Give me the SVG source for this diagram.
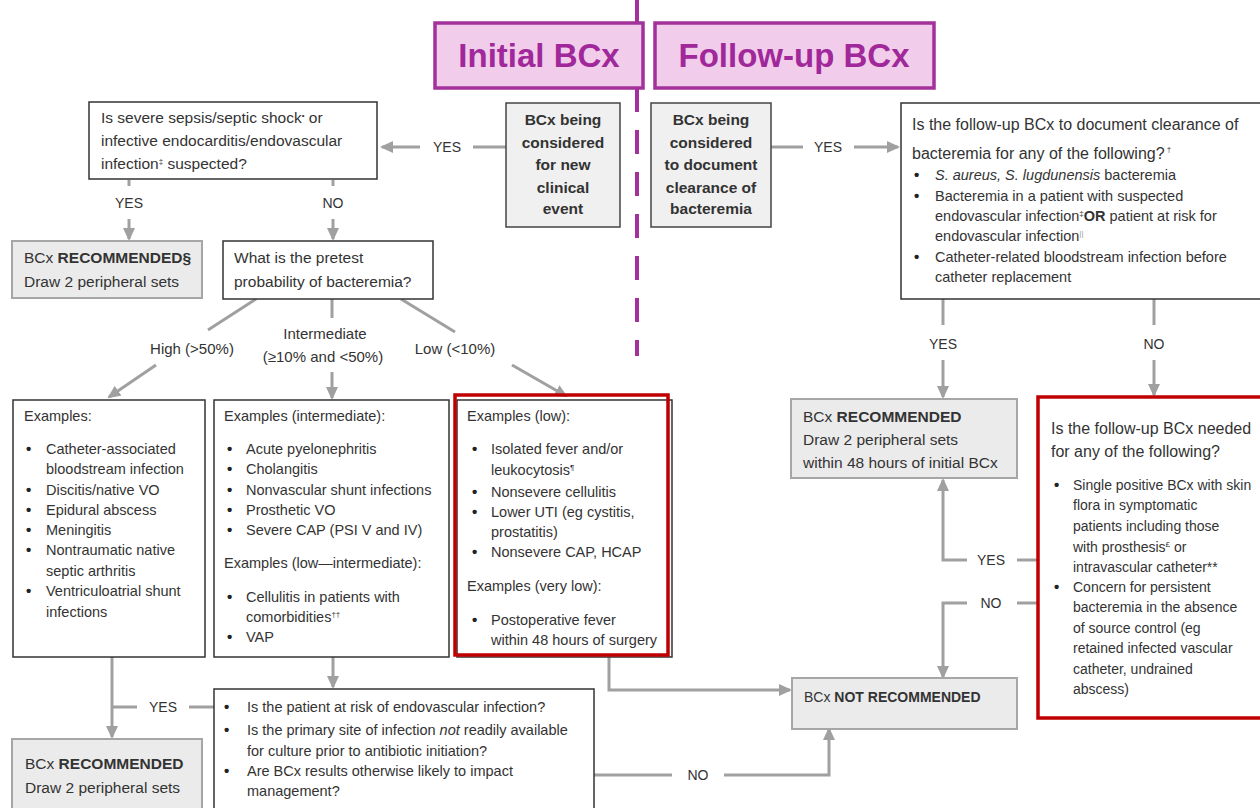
<svg xmlns="http://www.w3.org/2000/svg" width="1260" height="808" viewBox="0 0 1260 808">
<style>
.t{font-family:"Liberation Sans",Arial,sans-serif;fill:#333;font-size:14.5px}
.s14{font-size:14px}
.s15{font-size:15.5px}
.s16{font-size:16px}
.b{font-weight:bold}
.c{text-anchor:middle}
.bu{font-family:"Liberation Sans",Arial,sans-serif;fill:#222;font-size:15px;font-weight:bold}
.box{fill:#fff;stroke:#333;stroke-width:1.5}
.gbox{fill:#F0F0F0;stroke:#444;stroke-width:1.5}
.rbox{fill:#EBEBEB;stroke:#A6A6A6;stroke-width:2}
.red{fill:none;stroke:#C00000;stroke-width:3.5}
.hdr{fill:#F2CDEB;stroke:#A3309B;stroke-width:3.5}
.hdrt{font-family:"Liberation Sans",Arial,sans-serif;font-weight:bold;font-size:33px;fill:#A0289A;text-anchor:middle}
.cn{fill:none;stroke:#A0A0A0;stroke-width:3}
.lbl{font-family:"Liberation Sans",Arial,sans-serif;font-size:14px;fill:#333;text-anchor:middle}
.lbl2{font-family:"Liberation Sans",Arial,sans-serif;font-size:15px;fill:#333;text-anchor:middle}
.sup{font-size:8px}
</style>
<defs>
<marker id="ah" markerWidth="13" markerHeight="12" refX="11" refY="6" orient="auto" markerUnits="userSpaceOnUse">
<path d="M0,0 L13,6 L0,12 z" fill="#A0A0A0"/>
</marker>
</defs>
<rect width="1260" height="808" fill="#fff"/>

<g id="divider">
<line x1="637" y1="0" x2="637" y2="24" stroke="#A3309B" stroke-width="4"/>
<line x1="637" y1="88" x2="637" y2="356" stroke="#A3309B" stroke-width="4" stroke-dasharray="24 18"/>
</g>

<g id="hdr-initial">
<rect class="hdr" x="435" y="23" width="208" height="65"/>
<text class="hdrt" x="539" y="67">Initial BCx</text>
</g>
<g id="hdr-followup">
<rect class="hdr" x="655" y="23" width="279" height="65"/>
<text class="hdrt" x="794" y="67">Follow-up BCx</text>
</g>

<g id="connectors">
<path class="cn" d="M506,147 H473"/>
<path class="cn" d="M420,147 H382" marker-end="url(#ah)"/>
<text class="lbl" x="447" y="152">YES</text>
<path class="cn" d="M771,147 H803"/>
<path class="cn" d="M854,147 H898" marker-end="url(#ah)"/>
<text class="lbl" x="828" y="152">YES</text>
<path class="cn" d="M129,180 V186"/>
<text class="lbl" x="129" y="208">YES</text>
<path class="cn" d="M129,219 V239" marker-end="url(#ah)"/>
<path class="cn" d="M333,180 V186"/>
<text class="lbl" x="333" y="208">NO</text>
<path class="cn" d="M333,219 V239" marker-end="url(#ah)"/>
<path class="cn" d="M256,299 L208,330"/>
<path class="cn" d="M156,365 L109,397" marker-end="url(#ah)"/>
<text class="lbl2" x="192" y="354">High (&gt;50%)</text>
<path class="cn" d="M332,299 V318"/>
<path class="cn" d="M332,372 V398" marker-end="url(#ah)"/>
<text class="lbl2" x="325" y="339">Intermediate</text>
<text class="lbl2" x="323" y="362">(≥10% and &lt;50%)</text>
<path class="cn" d="M401,299 L455,332"/>
<path class="cn" d="M512,365 L566,396" marker-end="url(#ah)"/>
<text class="lbl2" x="455" y="354">Low (&lt;10%)</text>
<path class="cn" d="M112,657 V737" marker-end="url(#ah)"/>
<path class="cn" d="M112,707 H137"/>
<path class="cn" d="M189,707 H214"/>
<text class="lbl" x="163" y="712">YES</text>
<path class="cn" d="M333,657 V687" marker-end="url(#ah)"/>
<path class="cn" d="M609,657 V690 H790" marker-end="url(#ah)"/>
<path class="cn" d="M594,775 H672"/>
<text class="lbl" x="698" y="780">NO</text>
<path class="cn" d="M724,775 H829 V729" marker-end="url(#ah)"/>
<path class="cn" d="M943,299 V325"/>
<text class="lbl" x="943" y="349">YES</text>
<path class="cn" d="M943,360 V397" marker-end="url(#ah)"/>
<path class="cn" d="M1154,299 V325"/>
<text class="lbl" x="1154" y="349">NO</text>
<path class="cn" d="M1154,360 V395" marker-end="url(#ah)"/>
<path class="cn" d="M1038,560 H1017"/>
<text class="lbl" x="991" y="565">YES</text>
<path class="cn" d="M967,560 H943 V480" marker-end="url(#ah)"/>
<path class="cn" d="M1038,603 H1017"/>
<text class="lbl" x="991" y="608">NO</text>
<path class="cn" d="M967,603 H943 V677" marker-end="url(#ah)"/>
</g>

<g id="n-sepsis">
<rect class="box" x="89" y="102" width="288" height="77"/>
<text class="t s15" x="101" y="123">Is severe sepsis/septic shock<tspan class="sup" dy="-5">•</tspan><tspan dy="5"> or</tspan></text>
<text class="t s15" x="101" y="146">infective endocarditis/endovascular</text>
<text class="t s15" x="101" y="169">infection<tspan class="sup" dy="-5">‡</tspan><tspan dy="5"> suspected?</tspan></text>
</g>

<g id="n-new-event">
<rect class="gbox" x="506" y="103" width="114" height="124"/>
<text class="t s15 b c" x="563" y="125">BCx being</text>
<text class="t s15 b c" x="563" y="148">considered</text>
<text class="t s15 b c" x="563" y="170">for new</text>
<text class="t s15 b c" x="563" y="193">clinical</text>
<text class="t s15 b c" x="563" y="214">event</text>
</g>

<g id="n-clearance">
<rect class="gbox" x="651" y="103" width="120" height="124"/>
<text class="t s15 b c" x="711" y="125">BCx being</text>
<text class="t s15 b c" x="711" y="148">considered</text>
<text class="t s15 b c" x="711" y="170">to document</text>
<text class="t s15 b c" x="711" y="193">clearance of</text>
<text class="t s15 b c" x="711" y="214">bacteremia</text>
</g>

<g id="n-followup-q">
<rect class="box" x="901" y="103" width="362" height="196"/>
<text class="t s16" x="912" y="130">Is the follow-up BCx to document clearance of</text>
<text class="t s16" x="912" y="159">bacteremia for any of the following?<tspan class="sup" dy="-7"> †</tspan></text>
<text class="bu" x="914" y="180">•</text>
<text class="t" x="935" y="180"><tspan font-style="italic">S. aureus, S. lugdunensis</tspan> bacteremia</text>
<text class="bu" x="914" y="201">•</text>
<text class="t" x="935" y="201">Bacteremia in a patient with suspected</text>
<text class="t" x="935" y="221">endovascular infection<tspan class="sup" dy="-5">‡</tspan><tspan dy="5" class="b">OR</tspan> patient at risk for</text>
<text class="t" x="935" y="241">endovascular infection<tspan class="sup" dy="-5" fill="#999">||</tspan></text>
<text class="bu" x="914" y="262">•</text>
<text class="t" x="935" y="262">Catheter-related bloodstream infection before</text>
<text class="t" x="935" y="282">catheter replacement</text>
</g>

<g id="n-rec-sepsis">
<rect class="rbox" x="12" y="241" width="190" height="57"/>
<text class="t s15" x="24" y="263">BCx <tspan class="b">RECOMMENDED§</tspan></text>
<text class="t s15" x="24" y="287">Draw 2 peripheral sets</text>
</g>

<g id="n-pretest">
<rect class="box" x="223" y="241" width="210" height="58"/>
<text class="t s15" x="234" y="263">What is the pretest</text>
<text class="t s15" x="234" y="287">probability of bacteremia?</text>
</g>

<g id="n-high">
<rect class="box" x="13" y="400" width="192" height="257"/>
<text class="t" x="24" y="421">Examples:</text>
<text class="bu" x="26" y="454">•</text><text class="t" x="46" y="454">Catheter-associated</text>
<text class="t" x="46" y="474">bloodstream infection</text>
<text class="bu" x="26" y="495">•</text><text class="t" x="46" y="495">Discitis/native VO</text>
<text class="bu" x="26" y="515">•</text><text class="t" x="46" y="515">Epidural abscess</text>
<text class="bu" x="26" y="535">•</text><text class="t" x="46" y="535">Meningitis</text>
<text class="bu" x="26" y="555">•</text><text class="t" x="46" y="555">Nontraumatic native</text>
<text class="t" x="46" y="576">septic arthritis</text>
<text class="bu" x="26" y="596">•</text><text class="t" x="46" y="596">Ventriculoatrial shunt</text>
<text class="t" x="46" y="617">infections</text>
</g>

<g id="n-intermediate">
<rect class="box" x="214" y="400" width="235" height="257"/>
<text class="t" x="224" y="421">Examples (intermediate):</text>
<text class="bu" x="227" y="454">•</text><text class="t" x="246" y="454">Acute pyelonephritis</text>
<text class="bu" x="227" y="474">•</text><text class="t" x="246" y="474">Cholangitis</text>
<text class="bu" x="227" y="495">•</text><text class="t" x="246" y="495">Nonvascular shunt infections</text>
<text class="bu" x="227" y="515">•</text><text class="t" x="246" y="515">Prosthetic VO</text>
<text class="bu" x="227" y="535">•</text><text class="t" x="246" y="535">Severe CAP (PSI V and IV)</text>
<text class="t" x="224" y="568">Examples (low—intermediate):</text>
<text class="bu" x="227" y="602">•</text><text class="t" x="246" y="602">Cellulitis in patients with</text>
<text class="t" x="246" y="622">comorbidities<tspan class="sup" dy="-5">††</tspan></text>
<text class="bu" x="227" y="642">•</text><text class="t" x="246" y="642">VAP</text>
</g>

<g id="n-low">
<rect class="box" x="457" y="400" width="215" height="257"/>
<rect class="red" x="455" y="395" width="213" height="260"/>
<text class="t" x="467" y="421">Examples (low):</text>
<text class="bu" x="472" y="454">•</text><text class="t" x="491" y="454">Isolated fever and/or</text>
<text class="t" x="491" y="475">leukocytosis<tspan class="sup" dy="-5">¶</tspan></text>
<text class="bu" x="472" y="497">•</text><text class="t" x="491" y="497">Nonsevere cellulitis</text>
<text class="bu" x="472" y="517">•</text><text class="t" x="491" y="517">Lower UTI (eg cystitis,</text>
<text class="t" x="491" y="537">prostatitis)</text>
<text class="bu" x="472" y="557">•</text><text class="t" x="491" y="557">Nonsevere CAP, HCAP</text>
<text class="t" x="467" y="591">Examples (very low):</text>
<text class="bu" x="472" y="625">•</text><text class="t" x="491" y="625">Postoperative fever</text>
<text class="t" x="491" y="645">within 48 hours of surgery</text>
</g>

<g id="n-rec-followup">
<rect class="rbox" x="791" y="399" width="226" height="79"/>
<text class="t s15" x="803" y="422">BCx <tspan class="b">RECOMMENDED</tspan></text>
<text class="t s15" x="803" y="445">Draw 2 peripheral sets</text>
<text class="t s15" x="803" y="468">within 48 hours of initial BCx</text>
</g>

<g id="n-followup-needed">
<rect x="1038" y="397" width="226" height="321" fill="#fff" stroke="#C00000" stroke-width="3.5"/>
<text class="t s16" x="1051" y="434">Is the follow-up BCx needed</text>
<text class="t s16" x="1051" y="457">for any of the following?</text>
<text class="bu" x="1054" y="490">•</text><text class="t s14" x="1073" y="490">Single positive BCx with skin</text>
<text class="t s14" x="1073" y="510">flora in symptomatic</text>
<text class="t s14" x="1073" y="531">patients including those</text>
<text class="t s14" x="1073" y="552">with prosthesis<tspan class="sup" dy="-5">£</tspan><tspan dy="5"> or</tspan></text>
<text class="t s14" x="1073" y="572">intravascular catheter**</text>
<text class="bu" x="1054" y="592">•</text><text class="t s14" x="1073" y="592">Concern for persistent</text>
<text class="t s14" x="1073" y="612">bacteremia in the  absence</text>
<text class="t s14" x="1073" y="633">of source control (eg</text>
<text class="t s14" x="1073" y="653">retained infected vascular</text>
<text class="t s14" x="1073" y="674">catheter, undrained</text>
<text class="t s14" x="1073" y="694">abscess)</text>
</g>

<g id="n-not-rec">
<rect class="rbox" x="792" y="678" width="225" height="51"/>
<text class="t s14" x="804" y="702">BCx <tspan class="b">NOT RECOMMENDED</tspan></text>
</g>

<g id="n-rec-bottom">
<rect class="rbox" x="12" y="739" width="190" height="80"/>
<text class="t s15" x="25" y="769">BCx <tspan class="b">RECOMMENDED</tspan></text>
<text class="t s15" x="25" y="793">Draw 2 peripheral sets</text>
</g>

<g id="n-risk-q">
<rect class="box" x="214" y="689" width="380" height="130"/>
<text class="bu" x="224" y="712">•</text><text class="t" x="247" y="712">Is the patient at risk of endovascular infection?</text>
<text class="bu" x="224" y="735">•</text><text class="t" x="247" y="735">Is the primary site of infection <tspan font-style="italic">not</tspan> readily available</text>
<text class="t" x="247" y="756">for culture prior to antibiotic initiation?</text>
<text class="bu" x="224" y="776">•</text><text class="t" x="247" y="776">Are BCx results otherwise likely to impact</text>
<text class="t" x="247" y="796">management?</text>
</g>
</svg>
